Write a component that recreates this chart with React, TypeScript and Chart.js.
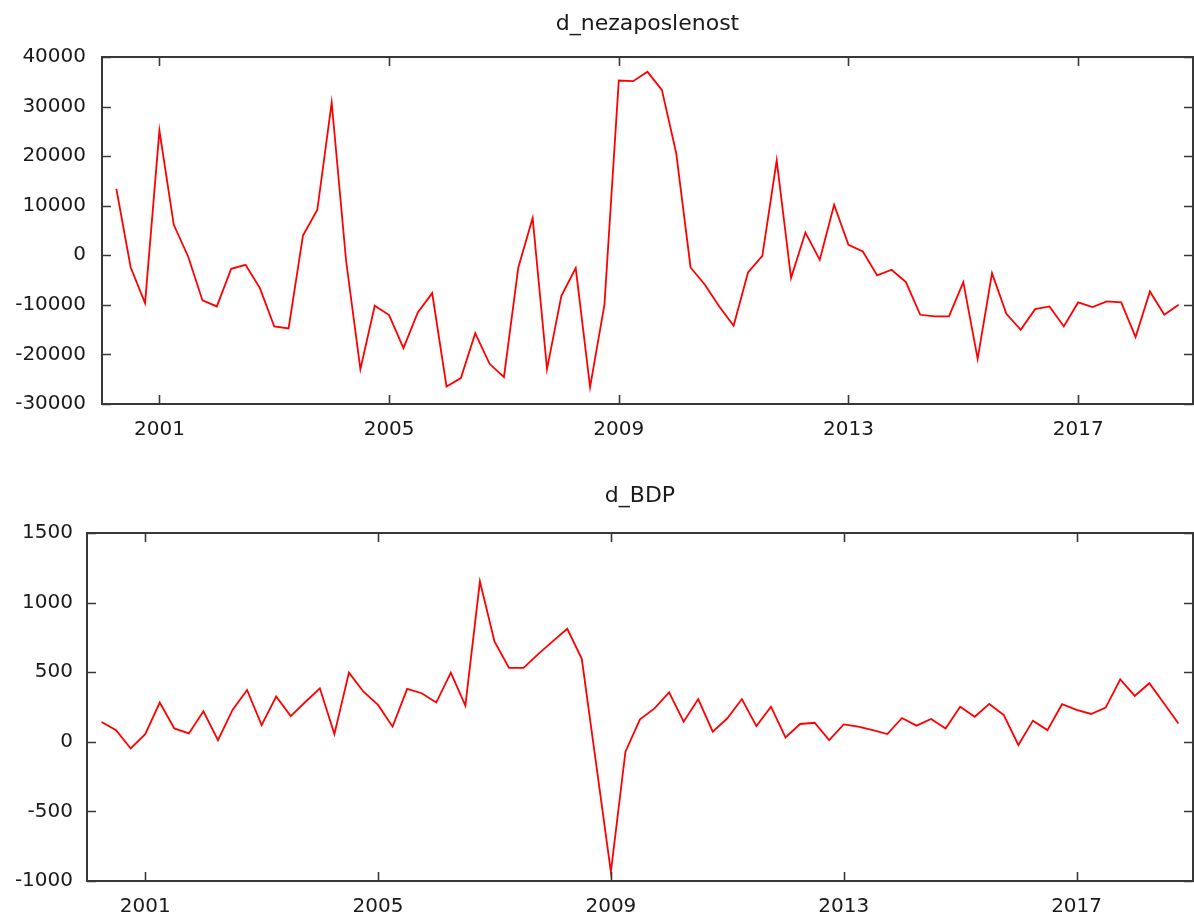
import React, { useEffect, useRef } from "react";
import { Chart, registerables } from "chart.js";

Chart.register(...registerables);

// Quarterly series, first observation 2000:2
const START_YEAR = 2000;
const START_QUARTER = 2;

const X_TICKS = [2001, 2005, 2009, 2013, 2017];
const X_MIN = 2000;
const X_MAX = 2019;

const TITLE_TOP = "d_nezaposlenost";
const TITLE_BOTTOM = "d_BDP";

const Y_TICKS_TOP = [-30000, -20000, -10000, 0, 10000, 20000, 30000, 40000];
const Y_TICKS_BOTTOM = [-1000, -500, 0, 500, 1000, 1500];

const D_NEZAPOSLENOST = [
  13400, -2460, -9640, 25170, 6150, -240, -9110, -10320, -2720, -1920,
  -6620, -14360, -14760, 4000, 9180, 30820, -1000, -22960, -10190, -12070,
  -18720, -11530, -7630, -26460, -24780, -15700, -21890, -24570, -2460, 7500,
  -22960, -8170, -2590, -26590, -9980, 35260, 35130, 37010, 33380, 20610,
  -2460, -5950, -10320, -14220, -3470, -100, 19120, -4600, 4600, -910,
  10190, 2120, 770, -4070, -2920, -5410, -12000, -12340, -12340, -5410,
  -20880, -3600, -11800, -15030, -10860, -10320, -14360, -9510, -10450, -9310,
  -9510, -16500, -7300, -12000, -9980,
];

const D_BDP = [
  142, 84, -48, 55, 282, 96, 60, 219, 12, 229,
  372, 120, 325, 185, 286, 384, 55, 497, 360, 265,
  109, 380, 349, 282, 497, 260, 1153, 721, 531, 531,
  630, 721, 812, 596, -170, -935, -71, 161, 240, 355,
  145, 307, 73, 169, 307, 113, 252, 31, 128, 137,
  12, 125, 109, 83, 56, 171, 116, 164, 96, 252,
  180, 272, 192, -23, 152, 84, 270, 229, 200, 246,
  449, 330, 421, 277, 132,
];

const FONT_FAMILY = '"DejaVu Sans", Verdana, sans-serif';
const FONT_SIZE = 20;
const TITLE_FONT_SIZE = 22;
const TEXT_COLOR = "#1a1a1a";
const FRAME_COLOR = "#383838";
const LINE_COLOR = "#ff0000";

const CANVAS_W = 1194;
const CANVAS_H = 460;

function quarterTime(i: number): number {
  const q = START_QUARTER - 1 + i;
  return START_YEAR + Math.floor(q / 4) + (q % 4) / 4;
}

const framePlugin = {
  id: "frame",
  afterDraw(chart: any, _args: any, opts: any) {
    const { ctx, chartArea } = chart;
    const { left, right, top, bottom } = chartArea;
    const xs = chart.scales.x;
    const ys = chart.scales.y;
    const tl = 9;
    ctx.save();
    ctx.strokeStyle = FRAME_COLOR;
    ctx.lineWidth = 1.6;
    ctx.beginPath();
    xs.ticks.forEach((t: any) => {
      const px = Math.round(xs.getPixelForValue(t.value)) + 0.5;
      ctx.moveTo(px, bottom);
      ctx.lineTo(px, bottom - tl);
      ctx.moveTo(px, top);
      ctx.lineTo(px, top + tl);
    });
    ys.ticks.forEach((t: any) => {
      const py = Math.round(ys.getPixelForValue(t.value)) + 0.5;
      ctx.moveTo(left, py);
      ctx.lineTo(left + tl, py);
      ctx.moveTo(right, py);
      ctx.lineTo(right - tl, py);
    });
    ctx.stroke();
    ctx.lineWidth = 2;
    ctx.strokeRect(left, top, right - left, bottom - top);
    ctx.fillStyle = TEXT_COLOR;
    ctx.font = `${TITLE_FONT_SIZE}px ${FONT_FAMILY}`;
    ctx.textAlign = "center";
    ctx.textBaseline = "alphabetic";
    ctx.fillText(opts.text, (left + right) / 2, top - opts.offset);
    ctx.restore();
  },
};

type Area = { left: number; right: number; top: number; bottom: number };

function buildChart(
  canvas: HTMLCanvasElement,
  title: string,
  values: number[],
  yTicks: number[],
  area: Area,
  titleOffset: number,
  yPad: number
) {
  const points = values.map((v, i) => ({ x: quarterTime(i), y: v }));
  return new Chart(canvas, {
    type: "line",
    data: {
      datasets: [
        {
          data: points,
          borderColor: LINE_COLOR,
          borderWidth: 1.8,
          pointRadius: 0,
          tension: 0,
          fill: false,
        },
      ],
    },
    options: {
      responsive: false,
      animation: false,
      layout: {
        padding: { top: area.top, left: 0, right: CANVAS_W - area.right, bottom: 0 },
      },
      plugins: {
        legend: { display: false },
        title: { display: false },
        tooltip: { enabled: false },
        frame: { text: title, offset: titleOffset },
      } as any,
      scales: {
        x: {
          type: "linear",
          min: X_MIN,
          max: X_MAX,
          grid: { display: false, drawTicks: false },
          border: { display: false },
          afterBuildTicks: (s: any) => {
            s.ticks = X_TICKS.map((v) => ({ value: v }));
          },
          afterFit: (s: any) => {
            s.height = CANVAS_H - area.bottom;
          },
          ticks: {
            padding: 14,
            autoSkip: false,
            maxRotation: 0,
            color: TEXT_COLOR,
            font: { family: FONT_FAMILY, size: FONT_SIZE },
            callback: (v: any) => String(v),
          },
        },
        y: {
          type: "linear",
          min: yTicks[0],
          max: yTicks[yTicks.length - 1],
          grid: { display: false, drawTicks: false },
          border: { display: false },
          afterBuildTicks: (s: any) => {
            s.ticks = yTicks.map((v) => ({ value: v }));
          },
          afterFit: (s: any) => {
            s.width = area.left;
          },
          ticks: {
            padding: yPad,
            autoSkip: false,
            color: TEXT_COLOR,
            font: { family: FONT_FAMILY, size: FONT_SIZE },
            callback: (v: any) => String(v),
          },
        },
      },
    },
    plugins: [framePlugin as any],
  });
}

export default function App() {
  const topRef = useRef<HTMLCanvasElement>(null);
  const bottomRef = useRef<HTMLCanvasElement>(null);

  useEffect(() => {
    const c1 = buildChart(
      topRef.current!,
      TITLE_TOP,
      D_NEZAPOSLENOST,
      Y_TICKS_TOP,
      { left: 102, right: 1193, top: 57, bottom: 404 },
      27,
      16
    );
    const c2 = buildChart(
      bottomRef.current!,
      TITLE_BOTTOM,
      D_BDP,
      Y_TICKS_BOTTOM,
      { left: 87, right: 1193, top: 73, bottom: 421 },
      31,
      14
    );
    return () => {
      c1.destroy();
      c2.destroy();
    };
  }, []);

  return (
    <div
      style={{
        position: "absolute",
        left: 0,
        top: 0,
        width: CANVAS_W,
        height: CANVAS_H * 2,
        background: "#fff",
      }}
    >
      <canvas
        ref={topRef}
        width={CANVAS_W}
        height={CANVAS_H}
        style={{ display: "block", width: CANVAS_W, height: CANVAS_H }}
      />
      <canvas
        ref={bottomRef}
        width={CANVAS_W}
        height={CANVAS_H}
        style={{ display: "block", width: CANVAS_W, height: CANVAS_H }}
      />
    </div>
  );
}
